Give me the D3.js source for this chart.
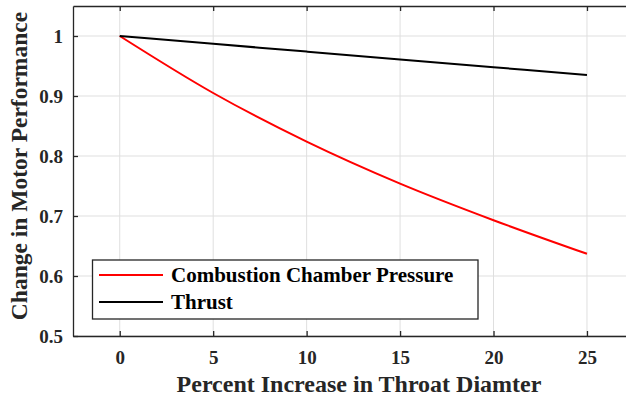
<!DOCTYPE html>
<html><head><meta charset="utf-8">
<script src="https://cdn.jsdelivr.net/npm/d3@7"></script>
<style>body{margin:0;background:#fff;}svg{display:block;}</style>
</head><body><svg id="c" width="626" height="402"></svg>
<script>
const xValues = [0, 5, 10, 15, 20, 25];
const pressure = [1, 0.905, 0.824, 0.754, 0.693, 0.637];
const thrust = [1, 0.987, 0.974, 0.961, 0.948, 0.935];
const xTicks = [0, 5, 10, 15, 20, 25];
const yTicks = [0.5, 0.6, 0.7, 0.8, 0.9, 1];
const seriesNames = ["Combustion Chamber Pressure", "Thrust"];
const seriesColors = ["#ff0000", "#000000"];

const svg = d3.select("#c");
const L = 73, T = 6, B = 336;
const x = d3.scaleLinear().domain([-2.5, 27.5]).range([L, 633.7]);
const y = d3.scaleLinear().domain([0.5, 1.05]).range([B, T]);
const R = x.range()[1];
const font = "'Liberation Serif', 'DejaVu Serif', serif";
const axisCol = "#262626";

// grid
svg.append("g").selectAll("line").data(xTicks).join("line")
  .attr("x1", d => x(d)).attr("x2", d => x(d)).attr("y1", T).attr("y2", B)
  .attr("stroke", "#dfdfdf").attr("stroke-width", 1);
svg.append("g").selectAll("line").data(yTicks).join("line")
  .attr("y1", d => y(d)).attr("y2", d => y(d)).attr("x1", L).attr("x2", R)
  .attr("stroke", "#dfdfdf").attr("stroke-width", 1);

// axes
const xb = svg.append("g").attr("transform", `translate(0,${B})`)
  .call(d3.axisBottom(x).tickValues(xTicks).tickSizeInner(-5).tickSizeOuter(0).tickPadding(15));
const xt = svg.append("g").attr("transform", `translate(0,${T})`)
  .call(d3.axisTop(x).tickValues(xTicks).tickSizeInner(-5).tickSizeOuter(0).tickFormat(""));
const yl = svg.append("g").attr("transform", `translate(${L},0)`)
  .call(d3.axisLeft(y).tickValues(yTicks).tickSizeInner(-5).tickSizeOuter(0).tickPadding(10).tickFormat(d3.format("~g")));
[xb, xt, yl].forEach(g => {
  g.select(".domain").attr("stroke", axisCol).attr("stroke-width", 1.3);
  g.selectAll(".tick line").attr("stroke", axisCol).attr("stroke-width", 1.3);
  g.selectAll("text").attr("fill", axisCol).attr("font-family", null).style("font-family", font)
    .style("font-weight", "bold").style("font-size", "19px");
});

// lines
const line = d3.line().x((d, i) => x(xValues[i])).y(d => y(d)).curve(d3.curveMonotoneX);
[pressure, thrust].forEach((s, i) => {
  svg.append("path").datum(s).attr("d", line).attr("fill", "none")
    .attr("stroke", seriesColors[i]).attr("stroke-width", 2);
});

// axis titles
svg.append("text").attr("x", 359).attr("y", 392).attr("text-anchor", "middle")
  .style("font-family", font).style("font-weight", "bold").style("font-size", "24px")
  .attr("fill", axisCol).text("Percent Increase in Throat Diamter");
svg.append("text").attr("transform", `translate(27,166) rotate(-90)`).attr("text-anchor", "middle")
  .style("font-family", font).style("font-weight", "bold").style("font-size", "23.5px")
  .attr("fill", axisCol).text("Change in Motor Performance");

// legend
const lg = svg.append("g");
lg.append("rect").attr("x", 92.5).attr("y", 260).attr("width", 385.5).attr("height", 59)
  .attr("fill", "#fff").attr("stroke", axisCol).attr("stroke-width", 1.3);
seriesNames.forEach((n, i) => {
  const yy = 275 + i * 27;
  lg.append("line").attr("x1", 99).attr("x2", 163).attr("y1", yy).attr("y2", yy)
    .attr("stroke", seriesColors[i]).attr("stroke-width", 2);
  lg.append("text").attr("x", 171).attr("y", yy + 7).text(n)
    .style("font-family", font).style("font-weight", "bold").style("font-size", "21px").attr("fill", "#000");
});
</script></body></html>
